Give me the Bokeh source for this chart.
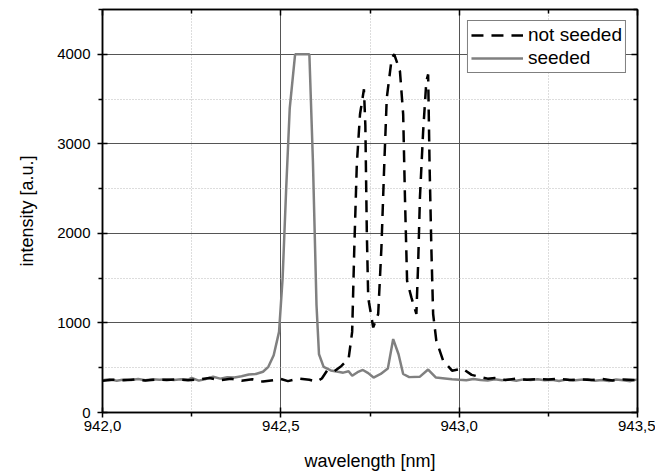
from bokeh.plotting import figure
from bokeh.models import (FixedTicker, CustomJSTickFormatter, LinearAxis, Legend, LegendItem, Range1d)
from bokeh.embed import file_html
from bokeh.resources import INLINE

# ---- data ----
seeded_x = [942.00, 942.02, 942.04, 942.06, 942.08, 942.10, 942.12, 942.14, 942.16, 942.18,
            942.20, 942.22, 942.24, 942.25, 942.27, 942.29, 942.31, 942.33, 942.35, 942.37,
            942.39, 942.41, 942.43, 942.45, 942.465, 942.48, 942.495, 942.505, 942.515, 942.525,
            942.54, 942.58, 942.59, 942.60, 942.607, 942.62, 942.64, 942.66, 942.675, 942.69,
            942.70, 942.715, 942.73, 942.745, 942.76, 942.78, 942.80, 942.815, 942.83, 942.843,
            942.86, 942.89, 942.913, 942.935, 942.96, 942.98, 943.00, 943.02, 943.04, 943.06,
            943.08, 943.10, 943.12, 943.14, 943.16, 943.18, 943.20, 943.22, 943.24, 943.26,
            943.28, 943.30, 943.32, 943.34, 943.36, 943.38, 943.40, 943.42, 943.44, 943.46,
            943.48, 943.50]
seeded_y = [360, 372, 355, 368, 362, 375, 360, 370, 365, 372,
            362, 370, 368, 385, 356, 375, 400, 378, 395, 392,
            405, 425, 430, 455, 510, 640, 900, 1500, 2500, 3400,
            4000, 4000, 2800, 1200, 650, 510, 470, 455, 445, 460,
            410, 450, 475, 440, 390, 430, 490, 820, 650, 430,
            395, 400, 480, 390, 380, 372, 365, 360, 375, 362,
            358, 372, 360, 368, 355, 370, 362, 372, 360, 365,
            352, 368, 358, 365, 372, 355, 362, 352, 368, 360,
            350, 370]

notseeded_x = [942.00, 942.03, 942.06, 942.09, 942.12, 942.15, 942.18, 942.21, 942.24, 942.27,
               942.30, 942.33, 942.36, 942.39, 942.42, 942.45, 942.48, 942.50, 942.52, 942.55,
               942.58, 942.60, 942.615, 942.63, 942.65, 942.67, 942.69, 942.70, 942.706, 942.713,
               942.722, 942.733, 942.737, 942.741, 942.745, 942.759, 942.773, 942.782, 942.790, 942.797,
               942.811, 942.818, 942.834, 942.843, 942.848, 942.854, 942.866, 942.880, 942.885, 942.890,
               942.899, 942.908, 942.913, 942.917, 942.922, 942.927, 942.936, 942.955, 942.980, 943.01,
               943.035, 943.06, 943.08, 943.10, 943.13, 943.16, 943.19, 943.22, 943.25, 943.28,
               943.31, 943.34, 943.37, 943.40, 943.43, 943.46, 943.50]
notseeded_y = [355, 365, 360, 370, 358, 368, 362, 372, 360, 368,
               385, 360, 378, 355, 372, 345, 362, 375, 350, 380,
               365, 345, 380, 470, 460, 520, 600, 900, 1840, 2770,
               3330, 3610, 3200, 2030, 1280, 950, 1100, 1840, 2770, 3510,
               3960, 4000, 3810, 3330, 2400, 1470, 1285, 1100, 1660, 2400,
               3140, 3700, 3775, 2770, 1840, 1100, 800, 580, 467, 490,
               420, 395, 378, 385, 362, 378, 365, 372, 368, 378,
               362, 372, 362, 375, 358, 368, 360]

x_ticks = [942.0, 942.5, 943.0, 943.5]
x_minor = [942.25, 942.75, 943.25]
y_ticks = [0, 1000, 2000, 3000, 4000]
y_minor = [500, 1500, 2500, 3500, 4500]

FONT = "Liberation Sans"

p = figure(frame_width=535, frame_height=403, output_backend="svg", toolbar_location=None,
           x_range=Range1d(942.0, 943.5), y_range=Range1d(0, 4500),
           min_border_left=102, min_border_top=9, min_border_right=18, min_border_bottom=61)
p.background_fill_color = "white"
p.border_fill_color = "white"
p.outline_line_color = "black"
p.outline_line_width = 1.5

xt = FixedTicker(ticks=x_ticks, minor_ticks=x_minor)
yt = FixedTicker(ticks=y_ticks, minor_ticks=y_minor)
p.xaxis.ticker = xt
p.yaxis.ticker = yt
p.xaxis.formatter = CustomJSTickFormatter(code="return tick.toFixed(1).replace('.', ',');")
p.yaxis.formatter = CustomJSTickFormatter(code="return tick.toFixed(0);")

for ax in (p.xaxis[0], p.yaxis[0]):
    ax.axis_line_color = "black"
    ax.axis_line_width = 1.5
    ax.major_tick_line_color = "black"
    ax.minor_tick_line_color = "black"
    ax.major_tick_line_width = 1.5
    ax.minor_tick_line_width = 1.5
    ax.major_tick_out = 5
    ax.major_tick_in = 5
    ax.minor_tick_out = 4
    ax.minor_tick_in = 0
    ax.major_label_text_font = FONT
    ax.major_label_text_font_size = "15px"
    ax.major_label_text_color = "black"
    ax.axis_label_text_font = FONT
    ax.axis_label_text_font_size = "18px"
    ax.axis_label_text_font_style = "normal"
    ax.axis_label_text_color = "black"

p.xaxis.axis_label = "wavelength [nm]"
p.yaxis.axis_label = "intensity [a.u.]"
p.xaxis.major_label_standoff = 3
p.yaxis.major_label_standoff = 7
p.xaxis.axis_label_standoff = 17
p.yaxis.axis_label_standoff = 17

blank = CustomJSTickFormatter(code="return '';")
for loc, tk in (("right", yt), ("above", xt)):
    a = LinearAxis(ticker=tk, formatter=blank, major_label_text_font_size="1px", major_label_standoff=0,
                   axis_line_color="black", axis_line_width=1.5,
                   major_tick_line_color="black", minor_tick_line_color="black",
                   major_tick_line_width=1.5, minor_tick_line_width=1.5,
                   major_tick_in=6, major_tick_out=0, minor_tick_in=4, minor_tick_out=0)
    p.add_layout(a, loc)

p.xgrid.ticker = xt
p.ygrid.ticker = yt
for g in (p.xgrid[0], p.ygrid[0]):
    g.grid_line_color = "#555555"
    g.grid_line_width = 1
    g.minor_grid_line_color = "#bbbbbb"
    g.minor_grid_line_dash = "1 2"
    g.minor_grid_line_width = 1

r_seed = p.line(seeded_x, seeded_y, line_color="#808080", line_width=2.5)
r_ns = p.line(notseeded_x, notseeded_y, line_color="black", line_width=2.5, line_dash="12 8")

legend = Legend(items=[LegendItem(label="not seeded", renderers=[r_ns]),
                       LegendItem(label="seeded", renderers=[r_seed])],
                location="top_right")
legend.label_text_font = FONT
legend.label_text_font_size = "19px"
legend.label_text_color = "black"
legend.glyph_width = 52
legend.glyph_height = 20
legend.label_height = 20
legend.label_standoff = 5
legend.spacing = 1
legend.padding = 3
legend.margin = 11
legend.border_line_color = "black"
legend.border_line_width = 1.5
legend.background_fill_alpha = 1
p.add_layout(legend)

open("out.html", "w").write(file_html(p, INLINE))
